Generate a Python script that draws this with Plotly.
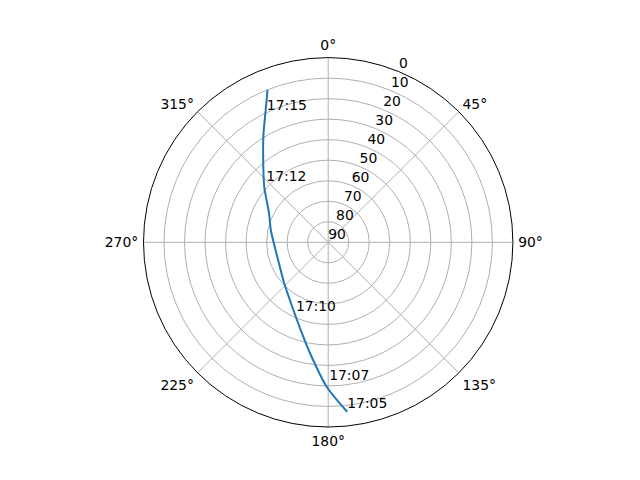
import plotly.graph_objects as go

# Satellite pass track: azimuth (deg, clockwise from north) and elevation (deg)
track_az = [173.6, 180.6, 189.3, 197.4, 211.4, 227.0, 246.9, 270.0, 282.1, 296.1, 311.0, 321.7, 328.9, 334.7, 338.3]
track_el = [6.9, 19.6, 35.2, 45.2, 55.2, 60.7, 63.9, 63.4, 61.4, 57.9, 48.7, 38.9, 28.9, 18.7, 10.1]

# Time labels along the pass
label_text = ["17:05", "17:07", "17:10", "17:12", "17:15"]
label_az = [173.6, 179.6, 204.2, 313.1, 334.6]
label_el = [6.9, 21.2, 51.6, 48.7, 20.3]

radial_ticks = [0, 10, 20, 30, 40, 50, 60, 70, 80, 90]
radial_label_angle = 22.5
angular_ticks = [0, 45, 90, 135, 180, 225, 270, 315]

FONT = "DejaVu Sans"
FS = 13.9

# page body has an 8px margin, so the figure is 8px smaller and shifted
W, H = 632, 472
CX, CY, R = 320.2, 234.3, 184.7  # circle centre/radius in figure pixels

fig = go.Figure()
fig.add_trace(go.Scatterpolar(
    theta=track_az, r=track_el, mode="lines",
    line=dict(color="#1f77b4", width=2, shape="spline", smoothing=0.8),
    showlegend=False, hoverinfo="skip",
))
fig.add_trace(go.Scatterpolar(
    theta=label_az, r=label_el, mode="text", text=label_text,
    textposition="top right", textfont=dict(family=FONT, size=FS, color="black"),
    showlegend=False, hoverinfo="skip",
))
# radial tick labels (matplotlib style: along the 22.5 deg line)
fig.add_trace(go.Scatterpolar(
    theta=[radial_label_angle] * len(radial_ticks), r=radial_ticks, mode="text",
    text=[str(v) for v in radial_ticks],
    textposition="top right", textfont=dict(family=FONT, size=FS, color="black"),
    showlegend=False, hoverinfo="skip",
))

fig.update_layout(
    width=W, height=H,
    margin=dict(l=0, r=0, t=0, b=0),
    paper_bgcolor="white",
    font=dict(family=FONT, size=FS, color="black"),
    polar=dict(
        domain=dict(x=[(CX - R) / W, (CX + R) / W],
                    y=[(H - CY - R) / H, (H - CY + R) / H]),
        bgcolor="white",
        angularaxis=dict(
            rotation=90, direction="clockwise",
            tickmode="array", tickvals=angular_ticks,
            ticktext=[f"{a}°" for a in angular_ticks],
            ticks="outside", ticklen=2, tickcolor="rgba(0,0,0,0)",
            showline=True, linecolor="black", linewidth=1,
            showgrid=True, gridcolor="#b0b0b0", gridwidth=1,
            tickfont=dict(family=FONT, size=FS, color="black"),
        ),
        radialaxis=dict(
            range=[90, 0], tickmode="array", tickvals=radial_ticks,
            angle=67.5, showticklabels=False,
            showline=False, ticks="",
            showgrid=True, gridcolor="#b0b0b0", gridwidth=1,
        ),
    ),
)

fig.write_html("out.html")
